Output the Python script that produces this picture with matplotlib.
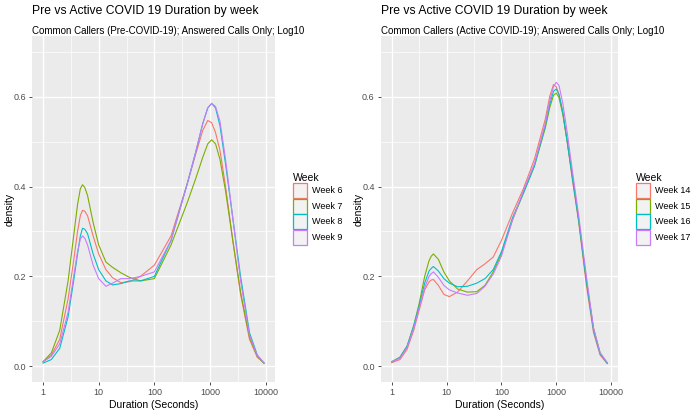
import numpy as np
import matplotlib.pyplot as plt
from matplotlib.patches import Patch

plt.rcParams['font.family'] = ['Liberation Sans', 'DejaVu Sans']

# log10 of duration (seconds)
pre_log = [0, 0.15, 0.3, 0.45, 0.55, 0.62, 0.67, 0.71, 0.75, 0.8, 0.9, 1.0, 1.13, 1.25, 1.4, 1.55,
           1.75, 2.0, 2.3, 2.6, 2.75, 2.87, 2.96, 3.03, 3.1, 3.18, 3.28, 3.41, 3.55, 3.71, 3.85, 3.97]
pre_weeks = ['Week 6', 'Week 7', 'Week 8', 'Week 9']
week6 = [0.01, 0.025, 0.06, 0.15, 0.235, 0.3, 0.335, 0.347, 0.345, 0.335, 0.29, 0.25, 0.215, 0.197, 0.186, 0.188,
         0.2, 0.225, 0.29, 0.41, 0.475, 0.525, 0.547, 0.542, 0.52, 0.48, 0.4, 0.28, 0.16, 0.06, 0.02, 0.007]
week7 = [0.01, 0.03, 0.08, 0.19, 0.29, 0.36, 0.395, 0.404, 0.398, 0.38, 0.32, 0.27, 0.232, 0.22, 0.208, 0.198,
         0.19, 0.195, 0.27, 0.367, 0.42, 0.465, 0.495, 0.504, 0.495, 0.46, 0.39, 0.28, 0.165, 0.065, 0.022, 0.007]
week8 = [0.007, 0.015, 0.04, 0.11, 0.19, 0.25, 0.29, 0.307, 0.305, 0.295, 0.25, 0.215, 0.19, 0.181, 0.184, 0.19,
         0.19, 0.2, 0.28, 0.41, 0.48, 0.54, 0.575, 0.585, 0.575, 0.535, 0.45, 0.33, 0.2, 0.075, 0.025, 0.007]
week9 = [0.01, 0.022, 0.05, 0.12, 0.2, 0.255, 0.283, 0.29, 0.285, 0.27, 0.225, 0.195, 0.178, 0.185, 0.195, 0.195,
         0.2, 0.21, 0.28, 0.41, 0.48, 0.54, 0.575, 0.585, 0.578, 0.545, 0.46, 0.33, 0.19, 0.07, 0.024, 0.008]

act_log = [0, 0.15, 0.28, 0.4, 0.5, 0.6, 0.68, 0.72, 0.76, 0.85, 0.95, 1.05, 1.2, 1.38, 1.55, 1.7, 1.85,
           2.0, 2.2, 2.4, 2.6, 2.8, 2.88, 2.95, 3.0, 3.05, 3.12, 3.2, 3.3, 3.41, 3.55, 3.68, 3.8, 3.93]
act_weeks = ['Week 14', 'Week 15', 'Week 16', 'Week 17']
week14 = [0.008, 0.015, 0.038, 0.08, 0.125, 0.17, 0.188, 0.192, 0.193, 0.18, 0.16, 0.155, 0.165, 0.19, 0.215,
          0.228, 0.243, 0.28, 0.34, 0.395, 0.46, 0.55, 0.6, 0.627, 0.622, 0.605, 0.565, 0.5, 0.41, 0.32,
          0.18, 0.075, 0.025, 0.006]
week15 = [0.01, 0.02, 0.045, 0.09, 0.14, 0.2, 0.235, 0.245, 0.25, 0.238, 0.21, 0.19, 0.172, 0.165, 0.166,
          0.18, 0.21, 0.25, 0.325, 0.385, 0.445, 0.53, 0.575, 0.603, 0.608, 0.598, 0.56, 0.5, 0.42, 0.325,
          0.19, 0.085, 0.03, 0.007]
week16 = [0.01, 0.02, 0.045, 0.09, 0.135, 0.185, 0.212, 0.218, 0.222, 0.212, 0.195, 0.185, 0.177, 0.178, 0.185,
          0.195, 0.215, 0.255, 0.33, 0.385, 0.445, 0.535, 0.582, 0.612, 0.617, 0.605, 0.565, 0.5, 0.415, 0.325,
          0.19, 0.08, 0.028, 0.007]
week17 = [0.01, 0.018, 0.042, 0.085, 0.13, 0.175, 0.2, 0.206, 0.21, 0.198, 0.18, 0.17, 0.163, 0.158, 0.162,
          0.178, 0.205, 0.245, 0.325, 0.39, 0.45, 0.54, 0.59, 0.622, 0.632, 0.625, 0.585, 0.52, 0.43, 0.335,
          0.2, 0.085, 0.03, 0.008]

colors = ['#F8766D', '#7CAE00', '#00BFC4', '#C77CFF']
title = 'Pre vs Active COVID 19 Duration by week'
subtitles = ['Common Callers (Pre-COVID-19); Answered Calls Only; Log10',
             'Common Callers (Active COVID-19); Answered Calls Only; Log10']

fig = plt.figure(figsize=(6.95, 4.12), dpi=100)
W, H = 695.0, 412.0


def panel(px_left, px_right, logs, series, labels, subtitle, leg_x):
    ax = fig.add_axes([px_left / W, (H - 382) / H, (px_right - px_left) / W, (382 - 36) / H])
    ax.set_facecolor('#EBEBEB')
    x = 10 ** np.array(logs)
    for s, c, lab in zip(series, colors, labels):
        ax.plot(x, s, color=c, lw=0.8, label=lab)
    ax.set_xscale('log')
    span = logs[-1] - logs[0]
    ax.set_xlim(10 ** (-0.05 * span), 10 ** (logs[-1] + 0.05 * span))
    ax.set_ylim(-0.035, 0.735)
    ax.set_xticks([1, 10, 100, 1000, 10000])
    ax.set_xticklabels(['1', '10', '100', '1000', '10000'])
    ax.set_xticks([10 ** 0.5, 10 ** 1.5, 10 ** 2.5, 10 ** 3.5], minor=True)
    ax.set_xticklabels([], minor=True)
    ax.set_yticks([0, 0.2, 0.4, 0.6])
    ax.set_yticklabels(['0.0', '0.2', '0.4', '0.6'])
    ax.set_yticks([0.1, 0.3, 0.5, 0.7], minor=True)
    ax.grid(which='major', color='white', lw=1.0)
    ax.grid(which='minor', color='white', lw=0.5)
    ax.set_axisbelow(True)
    for sp in ax.spines.values():
        sp.set_visible(False)
    ax.tick_params(which='major', length=2.5, width=0.6, color='#333333',
                   labelcolor='#4D4D4D', labelsize=6.5, pad=2)
    ax.tick_params(which='minor', length=0)
    ax.set_xlabel('Duration (Seconds)', fontsize=7.5, labelpad=2)
    ax.set_ylabel('density', fontsize=7.5)
    ax.yaxis.set_label_coords(-17 / (px_right - px_left), 0.5)
    ax.text(0, 1.0, subtitle, transform=ax.transAxes, fontsize=7, va='bottom', ha='left')
    fig.text(px_left / W, 1 - 11 / H, title, fontsize=8.7, va='center', ha='left')
    handles = [Patch(facecolor='#F2F2F2', edgecolor=c, lw=0.9, label=lab) for c, lab in zip(colors, labels)]
    fig.legend(handles=handles, title='Week', loc='upper left',
               bbox_to_anchor=(leg_x / W, 1 - 168 / H), frameon=False,
               fontsize=6.5, title_fontsize=7.5, handlelength=1.65, handleheight=2.2,
               labelspacing=0.05, handletextpad=0.5, borderpad=0, alignment='left')
    return ax


panel(32, 275, pre_log, [week6, week7, week8, week9], pre_weeks, subtitles[0], 288)
panel(381, 618, act_log, [week14, week15, week16, week17], act_weeks, subtitles[1], 631)

fig.savefig('out.png', dpi=100)
